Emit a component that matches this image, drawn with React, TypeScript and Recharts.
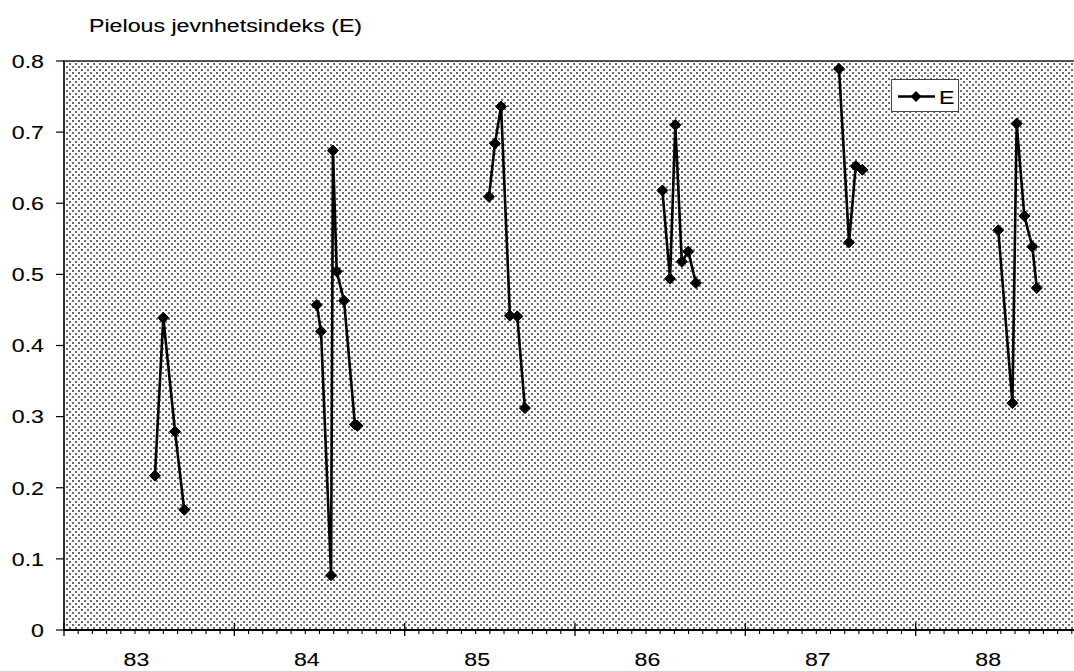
import React from 'react';
import { LineChart, Line, XAxis, YAxis, ReferenceArea, Legend } from 'recharts';

// Sampling positions (decimal year) and Pielou evenness values, per year
const years = ['83', '84', '85', '86', '87', '88'];
const t83 = [83.534, 83.583, 83.652, 83.706];
const e83 = [0.217, 0.439, 0.279, 0.169];
const t84 = [84.484, 84.509, 84.568, 84.579, 84.601, 84.644, 84.708, 84.723];
const e84 = [0.457, 0.42, 0.077, 0.674, 0.504, 0.463, 0.289, 0.287];
const t85 = [85.495, 85.53, 85.566, 85.618, 85.661, 85.706];
const e85 = [0.609, 0.684, 0.736, 0.442, 0.441, 0.312];
const t86 = [86.513, 86.558, 86.589, 86.627, 86.665, 86.71];
const e86 = [0.618, 0.494, 0.71, 0.518, 0.532, 0.488];
const t87 = [87.55, 87.609, 87.648, 87.687];
const e87 = [0.789, 0.545, 0.652, 0.647];
const t88 = [88.485, 88.568, 88.593, 88.638, 88.685, 88.711];
const e88 = [0.562, 0.319, 0.712, 0.582, 0.539, 0.481];

const yTicks = [0, 0.1, 0.2, 0.3, 0.4, 0.5, 0.6, 0.7, 0.8];
const yLabels = ['0', '0.1', '0.2', '0.3', '0.4', '0.5', '0.6', '0.7', '0.8'];

const groups = [
  [t83, e83],
  [t84, e84],
  [t85, e85],
  [t86, e86],
  [t87, e87],
  [t88, e88],
];

const data: { t: number; e: number | null }[] = [];
groups.forEach(([ts, es], gi) => {
  ts.forEach((t, i) => data.push({ t, e: es[i] }));
  if (gi < groups.length - 1) data.push({ t: 84 + gi, e: null });
});

const monthTicks: number[] = [];
for (let i = 0; i <= 72; i++) monthTicks.push(83 + i / 12);

const FONT = '"Liberation Sans", Arial, Helvetica, sans-serif';
const SX = 1.22;
const TS = 0.12;

const XTick = (props: any) => {
  const { x, y, payload } = props;
  const idx = Math.round((payload.value - 83) * 12);
  const m = idx % 12;
  if (m === 0) {
    return <line x1={x} x2={x} y1={y - 7} y2={y + 6} stroke="#000" strokeWidth={1.3} />;
  }
  return (
    <g>
      <line x1={x} x2={x} y1={y} y2={y + 4} stroke="#000" strokeWidth={1.1} />
      {m === 5 && (
        <g transform={`translate(${x + 1.5},${y + 36})`}>
          <text
            transform={`scale(${SX},1)`}
            textAnchor="middle"
            fontSize={19}
            fontFamily={FONT}
            fill="#000"
            stroke="#000"
            strokeWidth={TS}
          >
            {years[Math.floor(idx / 12)]}
          </text>
        </g>
      )}
    </g>
  );
};

const YTick = (props: any) => {
  const { x, y, payload } = props;
  const i = yTicks.findIndex((v) => Math.abs(v - payload.value) < 1e-6);
  return (
    <g transform={`translate(${x},${y})`}>
      <text
        transform={`scale(${SX},1)`}
        textAnchor="end"
        dy="0.36em"
        fontSize={19}
        fontFamily={FONT}
        fill="#000"
        stroke="#000"
        strokeWidth={TS}
      >
        {i >= 0 ? yLabels[i] : ''}
      </text>
    </g>
  );
};

const Diamond = (props: any) => {
  const { cx, cy, index } = props;
  if (cx == null || cy == null || props.value == null || props.payload?.e == null) return <g key={`d${index}`} />;
  const r = 5.5;
  return (
    <polygon
      key={`d${index}`}
      points={`${cx},${cy - r} ${cx + r},${cy} ${cx},${cy + r} ${cx - r},${cy}`}
      fill="#000"
      stroke="#000"
      strokeWidth={1}
    />
  );
};

const LegendBox = () => (
  <div
    style={{
      width: 68,
      height: 33,
      boxSizing: 'border-box',
      border: '1px solid #444',
      background: '#fff',
    }}
  >
    <svg width={66} height={31} style={{ display: 'block' }}>
      <line x1={6} x2={43} y1={16.5} y2={16.5} stroke="#000" strokeWidth={2.5} />
      <polygon points="24,11 29.5,16.5 24,22 18.5,16.5" fill="#000" />
      <g transform="translate(47,23.5)">
        <text transform={`scale(${SX},1)`} fontSize={19} fontFamily={FONT} fill="#000" stroke="#000" strokeWidth={TS}>
          E
        </text>
      </g>
    </svg>
  </div>
);

export default function App() {
  return (
    <div
      style={{
        position: 'absolute',
        left: 0,
        top: 0,
        width: 1074,
        height: 671,
        overflow: 'hidden',
        background: '#fff',
        fontFamily: FONT,
      }}
    >
      <svg width={1074} height={671} style={{ position: 'absolute', left: 0, top: 0 }}>
        <defs>
          <pattern id="halftone" width={6} height={6} patternUnits="userSpaceOnUse">
            <rect x={0} y={0} width={6} height={6} fill="#fafafa" />
            <rect x={0} y={0} width={2} height={2} fill="#6a6a6a" />
            <rect x={3} y={3} width={2} height={2} fill="#6a6a6a" />
          </pattern>
        </defs>
        <g transform="translate(89,32)">
          <text transform={`scale(${SX},1)`} fontSize={19} fontFamily={FONT} fill="#000" stroke="#000" strokeWidth={TS}>
            Pielous jevnhetsindeks (E)
          </text>
        </g>
      </svg>
      <div style={{ position: 'absolute', left: 0, top: 0 }}>
        <LineChart width={1090} height={671} data={data} margin={{ top: 61, right: 4, bottom: 11, left: 0 }}>
          <ReferenceArea
            x1={83}
            x2={89}
            y1={0}
            y2={0.8}
            fill="url(#halftone)"
            fillOpacity={1}
            stroke="#222"
            strokeWidth={1.5}
            ifOverflow="visible"
          />
          <XAxis
            dataKey="t"
            type="number"
            domain={[83, 89]}
            ticks={monthTicks}
            interval={0}
            height={30}
            tickSize={0}
            tickMargin={0}
            tickLine={false}
            axisLine={{ stroke: '#000', strokeWidth: 2 }}
            tick={<XTick />}
            allowDataOverflow
          />
          <YAxis
            type="number"
            domain={[0, 0.8]}
            ticks={yTicks}
            interval={0}
            width={64}
            tickSize={8}
            tickMargin={12}
            tickLine={{ stroke: '#000', strokeWidth: 1.2 }}
            axisLine={{ stroke: '#222', strokeWidth: 1.5 }}
            tick={<YTick />}
            allowDataOverflow
          />
          <Legend
            layout="horizontal"
            verticalAlign="middle"
            align="center"
            wrapperStyle={{ left: 891, top: 79, width: 68, height: 33 }}
            content={<LegendBox />}
          />
          <Line
            type="linear"
            dataKey="e"
            name="E"
            stroke="#000"
            strokeWidth={2.6}
            connectNulls={false}
            dot={<Diamond />}
            activeDot={false}
            isAnimationActive={false}
          />
        </LineChart>
      </div>
    </div>
  );
}
